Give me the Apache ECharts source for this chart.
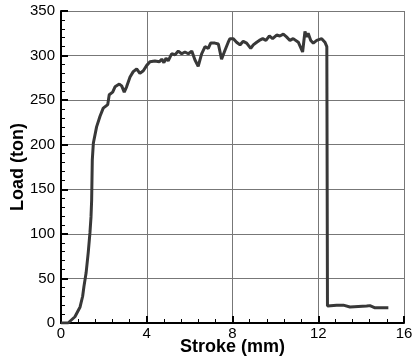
<!DOCTYPE html>
<html>
<head>
<meta charset="utf-8">
<script src="https://cdn.jsdelivr.net/npm/echarts@6/dist/echarts.min.js"></script>
<style>
    html, body { margin: 0; padding: 0; background: #fff; }
    #chart { width: 414px; height: 364px; }
</style>
</head>
<body>
<div id="chart"></div>
<script>
// values
var stroke = [0, 0.33, 0.65, 0.89, 1.01, 1.07, 1.17, 1.27, 1.35, 1.40, 1.43, 1.46, 1.51, 1.66, 1.82, 1.97,
    2.18, 2.25, 2.41, 2.52, 2.72, 2.83, 2.95, 3.06, 3.22, 3.37, 3.53, 3.68, 3.84, 4.0, 4.15, 4.38,
    4.59, 4.70, 4.80, 4.90, 5.0, 5.16, 5.32, 5.47, 5.63, 5.78, 5.94, 6.1, 6.25, 6.40, 6.56, 6.72,
    6.87, 6.98, 7.18, 7.34, 7.49, 7.65, 7.80, 7.88, 8.04, 8.19, 8.35, 8.50, 8.66, 8.85, 8.97, 9.13,
    9.25, 9.41, 9.56, 9.72, 9.87, 10.06, 10.21, 10.37, 10.52, 10.68, 10.83, 11.07, 11.27, 11.38, 11.46,
    11.53, 11.65, 11.77, 11.93, 12.16, 12.31, 12.40, 12.43, 12.86, 13.17, 13.48, 14.26, 14.41, 14.65, 15.27];
var load = [0, 0, 7, 18, 30, 41, 56, 79, 101, 119, 138, 183, 202, 220, 232, 241,
    245, 256, 259, 265, 268, 266, 259, 265, 276, 282, 285, 280, 283, 289, 293, 294,
    293, 296, 292, 297, 294, 302, 301, 305, 302, 304, 302, 305, 295, 288, 302, 310,
    308, 314, 314, 313, 296, 306, 315, 319, 319, 315, 312, 316, 314, 308, 312, 315,
    317, 319, 317, 322, 319, 323, 322, 324, 321, 317, 319, 315, 304, 327, 321,
    325, 317, 314, 317, 319, 315, 310, 19, 20, 20, 18, 19, 19.5, 17, 17];
var xTicks = [0, 4, 8, 12, 16];
var yTicks = [0, 50, 100, 150, 200, 250, 300, 350];

var font = 'Liberation Sans, Arial, sans-serif';
var chart = echarts.init(document.getElementById('chart'));

var points = [];
for (var i = 0; i < stroke.length; i++) {
    points.push([stroke[i], load[i]]);
}

function axisBase(ticks) {
    return {
        type: 'value',
        min: ticks[0],
        max: ticks[ticks.length - 1],
        interval: ticks[1] - ticks[0],
        axisLine: { show: true, onZero: false, lineStyle: { color: '#000', width: 2 } },
        axisTick: { show: true, inside: true, length: 7, lineStyle: { color: '#000', width: 2 } },
        minorTick: { show: true, splitNumber: 5, length: 4, lineStyle: { color: '#000', width: 1 } },
        splitLine: { show: true, lineStyle: { color: '#777', width: 1 } },
        axisLabel: { color: '#000', fontSize: 15, fontFamily: font },
        nameLocation: 'middle',
        nameMoveOverlap: false,
        nameTextStyle: { color: '#000', fontSize: 18, fontWeight: 'bold', fontFamily: font }
    };
}

var xAxis = axisBase(xTicks);
xAxis.name = 'Stroke (mm)';
xAxis.nameGap = 15;
xAxis.axisLabel.margin = 3;

var yAxis = axisBase(yTicks);
yAxis.name = 'Load (ton)';
yAxis.nameGap = 34;
yAxis.axisLabel.margin = 6;

var option = {
    animation: false,
    backgroundColor: '#fff',
    grid: { left: 61, right: 10, top: 11, bottom: 41, containLabel: false, outerBoundsMode: 'none' },
    xAxis: xAxis,
    yAxis: yAxis,
    series: [{
        type: 'line',
        data: points,
        symbol: 'none',
        smooth: false,
        lineStyle: { color: '#383838', width: 3 }
    }]
};
chart.setOption(option);
</script>
</body>
</html>
